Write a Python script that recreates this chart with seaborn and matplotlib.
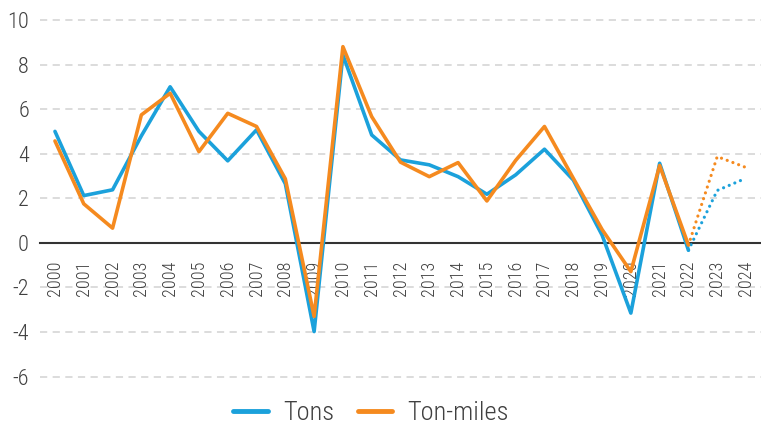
import matplotlib
matplotlib.use("Agg")
import matplotlib.pyplot as plt
import matplotlib.font_manager as fm
import seaborn as sns
import pandas as pd
from matplotlib.lines import Line2D

years = list(range(2000, 2025))
tons = [5.0, 2.12, 2.38, 4.8, 7.0, 5.0, 3.68, 5.07, 2.65, -3.98, 8.43, 4.84,
        3.72, 3.5, 2.97, 2.18, 3.05, 4.2, 2.82, 0.35, -3.15, 3.57, -0.33, 2.35, 2.9]
tonmiles = [4.57, 1.75, 0.66, 5.74, 6.71, 4.09, 5.81, 5.22, 2.87, -3.3, 8.8, 5.66,
            3.62, 2.97, 3.6, 1.88, 3.7, 5.22, 2.9, 0.6, -1.29, 3.47, -0.1, 3.87, 3.38]
last_actual = 2022
series_names = ["Tons", "Ton-miles"]
colors = {"Tons": "#1ba1db", "Ton-miles": "#f58a1f"}
ytick_vals = [-6, -4, -2, 0, 2, 4, 6, 8, 10]

names = [f.name for f in fm.fontManager.ttflist]
cond = "Roboto Condensed" in names
fam = ["Roboto Condensed", "Roboto"] if cond else ["Roboto"]

sns.set_theme(style="white")
plt.rcParams["font.family"] = fam

df = pd.DataFrame({"year": years * 2,
                   "value": tons + tonmiles,
                   "series": ["Tons"] * len(years) + ["Ton-miles"] * len(years)})
solid = df[df.year <= last_actual]
proj = df[df.year >= last_actual]

fig = plt.figure(figsize=(7.61, 4.28), dpi=100)
ax = fig.add_axes([40 / 761, 38 / 428, 721 / 761, 379 / 428])

sns.lineplot(data=proj, x="year", y="value", hue="series", palette=colors,
             hue_order=series_names, ax=ax, legend=False, linewidth=2.3,
             dashes=False)
for ln in ax.get_lines():
    ln.set_linestyle((0, (0.01, 1.9)))
    ln.set_dash_capstyle("round")
sns.lineplot(data=solid, x="year", y="value", hue="series", palette=colors,
             hue_order=series_names, ax=ax, legend=False, linewidth=2.6)

ax.set_xlim(1999.48, 2024.52)
ax.set_ylim(-6.6, 10.4)
ax.set_xlabel("")
ax.set_ylabel("")
ax.set_yticks(ytick_vals)
ax.set_yticklabels([str(v) for v in ytick_vals])
ax.set_xticks(years)
ax.set_xticklabels([str(y) for y in years])

for v in ytick_vals:
    if v != 0:
        ax.axhline(v, color="#d9d9d9", lw=1.3, ls=(0, (4, 3)), zorder=0)

for s in ["top", "right", "left"]:
    ax.spines[s].set_visible(False)
ax.spines["bottom"].set_position(("data", 0))
ax.spines["bottom"].set_color("#333333")
ax.spines["bottom"].set_linewidth(1.5)
ax.spines["bottom"].set_zorder(1)

ax.tick_params(axis="x", length=0, pad=13, labelsize=13 if cond else 11,
               labelcolor="#404040", labelrotation=90)
ax.tick_params(axis="y", length=0, pad=8, labelsize=16 if cond else 14,
               labelcolor="#404040")
for lab in ax.get_xticklabels() + ax.get_yticklabels():
    lab.set_fontweight("light")

handles = [Line2D([0], [0], color=colors[n], lw=3.5, solid_capstyle="round")
           for n in series_names]
leg = fig.legend(handles, series_names, loc="center", bbox_to_anchor=(371 / 761, 15 / 428),
                 ncol=2, frameon=False, fontsize=19 if cond else 16,
                 handlelength=1.3, columnspacing=0.9, handletextpad=0.57)
for t in leg.get_texts():
    t.set_color("#404040")
    t.set_fontweight("light")

fig.savefig("out.png", dpi=100)
